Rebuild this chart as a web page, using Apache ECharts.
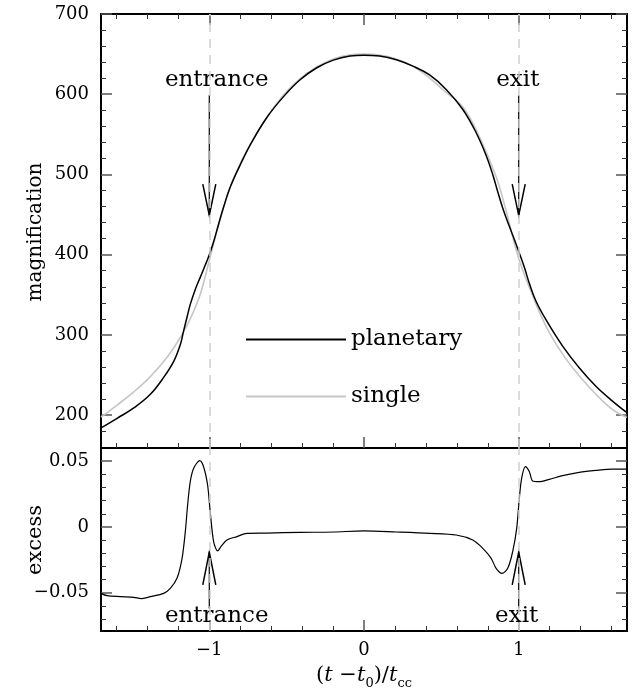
<!DOCTYPE html>
<html>
<head>
<meta charset="utf-8">
<script src="https://cdn.jsdelivr.net/npm/echarts@6/dist/echarts.min.js"></script>
<style>
html, body { margin: 0; padding: 0; background: #fff; }
#chart { width: 633px; height: 691px; }
</style>
</head>
<body>
<div id="chart"></div>
<script>
// planetary light curve (black)
const tPlanetary = [-1.70, -1.596, -1.488, -1.381, -1.295, -1.230, -1.187, -1.166, -1.144, -1.123, -1.090, -1.058, -1.026, -1.0,
	-0.972, -0.940, -0.908, -0.865, -0.800, -0.735, -0.628, -0.520, -0.413, -0.305, -0.198, -0.090, 0.0,
	0.101, 0.209, 0.316, 0.424, 0.531, 0.639, 0.725, 0.789, 0.832, 0.865, 0.897, 0.940, 0.972, 1.0,
	1.037, 1.069, 1.112, 1.176, 1.284, 1.391, 1.499, 1.606, 1.70];
const magPlanetary = [184, 196, 209, 226, 247, 267, 288, 305, 322, 338, 357, 372, 387, 400,
	416, 438, 459, 484, 512, 537, 571, 597, 618, 633, 642.5, 647.5, 648.5,
	647.5, 643, 635, 624, 606, 581, 552, 524, 500, 478, 458, 435, 419, 404,
	384, 364, 342, 319, 286, 259, 236, 217.5, 203];

// single lens light curve (gray)
const tSingle = [-1.70, -1.596, -1.488, -1.381, -1.273, -1.187, -1.123, -1.058, -1.0, -0.972, -0.918, -0.854, -0.746,
	-0.639, -0.520, -0.413, -0.305, -0.198, -0.090, 0.0, 0.090, 0.198, 0.305, 0.413, 0.520, 0.639,
	0.746, 0.854, 0.918, 0.972, 1.0, 1.069, 1.176, 1.284, 1.391, 1.499, 1.606, 1.70];
const magSingle = [197.5, 212.5, 229, 248, 272, 297, 320, 351, 393, 414, 452, 490, 534,
	568, 599, 619.5, 634, 644, 649, 650, 649, 644.5, 636, 622, 604, 584,
	547, 497, 455, 414, 395, 359, 311, 276, 249, 226, 207, 197];

// excess (bottom panel)
const tExcess = [-1.70, -1.66, -1.574, -1.488, -1.441, -1.381, -1.295, -1.252, -1.209, -1.176, -1.155, -1.140, -1.123,
	-1.101, -1.062, -1.037, -1.011, -0.994, -0.972, -0.946, -0.925, -0.886, -0.821, -0.757, -0.628, -0.413,
	-0.198, 0.0, 0.209, 0.424, 0.596, 0.703, 0.768, 0.822, 0.854, 0.892, 0.929, 0.961, 0.987, 1.004,
	1.019, 1.043, 1.069, 1.090, 1.133, 1.198, 1.284, 1.391, 1.499, 1.606, 1.70];
const excess = [-0.0504, -0.0522, -0.0529, -0.0534, -0.0544, -0.0529, -0.0504, -0.0466, -0.039, -0.0238, -0.0035, 0.0167, 0.0344,
	0.0446, 0.0504, 0.0458, 0.0319, 0.0116, -0.0111, -0.0182, -0.0149, -0.0099, -0.0073, -0.0048, -0.0046, -0.0041,
	-0.0038, -0.003, -0.0038, -0.0048, -0.0061, -0.0099, -0.0162, -0.0238, -0.0314, -0.0352, -0.0314, -0.0187, -0.001, 0.0218,
	0.037, 0.0458, 0.042, 0.0349, 0.0344, 0.0362, 0.039, 0.0415, 0.043, 0.044, 0.044];

// ticks
const xMajor = [-1, 0, 1];
const xMinor = [-1.6, -1.4, -1.2, -0.8, -0.6, -0.4, -0.2, 0.2, 0.4, 0.6, 0.8, 1.2, 1.4, 1.6];
const magMajor = [200, 300, 400, 500, 600, 700];
const magMinor = [180, 220, 240, 260, 280, 320, 340, 360, 380, 420, 440, 460, 480, 520, 540, 560, 580, 620, 640, 660, 680];
const excMajor = [-0.05, 0, 0.05];
const excMinor = [-0.07, -0.06, -0.04, -0.03, -0.02, -0.01, 0.01, 0.02, 0.03, 0.04];

// caustic entrance / exit marks
const causticT = [-1, 1];
const causticNames = ['entrance', 'exit'];
const labelTTop = [-0.952, 0.994];
const labelTBottom = [-0.952, 0.987];

const FONT = 'DejaVu Serif';

function fmt(v) {
	return v < 0 ? '\u2212' + Math.abs(v) : String(v);
}

function tickStyle(len) {
	return { color: len > 6 ? '#555' : '#333', width: len > 6 ? 1.5 : 1 };
}

// one axis per tick set; several stacked on the same edge
function xAx(grid, pos, ticks, len, opts) {
	return Object.assign({
		type: 'value', gridIndex: grid, position: pos, min: -1.7, max: 1.7,
		axisLine: { show: false, onZero: false },
		axisTick: { show: true, inside: true, length: len, customValues: ticks, lineStyle: tickStyle(len) },
		axisLabel: { show: false },
		splitLine: { show: false }
	}, opts || {});
}

function yAx(grid, pos, min, max, ticks, len, opts) {
	return Object.assign({
		type: 'value', gridIndex: grid, position: pos, min: min, max: max,
		axisLine: { show: false, onZero: false },
		axisTick: { show: true, inside: true, length: len, customValues: ticks, lineStyle: tickStyle(len) },
		axisLabel: { show: false },
		splitLine: { show: false }
	}, opts || {});
}

const frame = { show: true, onZero: false, lineStyle: { color: '#000', width: 2 } };
const tickLabel = { show: true, color: '#000', fontFamily: FONT, fontSize: 18 };

function arrowItem(tipV, tailV, armV, labelT, labelV) {
	return function (params, api) {
		const i = params.dataIndex;
		const t = causticT[i];
		const tail = api.coord([t, tailV]);
		const tip = api.coord([t, tipV]);
		const armL = api.coord([t - 0.042, armV]);
		const armR = api.coord([t + 0.042, armV]);
		const lab = api.coord([labelT[i], labelV]);
		return {
			type: 'group',
			children: [
				{ type: 'line', shape: { x1: tail[0], y1: tail[1], x2: tip[0], y2: tip[1] }, style: { stroke: '#000', lineWidth: 1.2 } },
				{ type: 'polyline', shape: { points: [armL, tip, armR] }, style: { stroke: '#000', fill: null, lineWidth: 1.5 } },
				{ type: 'text', x: lab[0], y: lab[1], style: { text: causticNames[i], fill: '#000', fontFamily: FONT, fontSize: 23, align: 'center', verticalAlign: 'middle' } }
			]
		};
	};
}

const dashed = {
	silent: true, symbol: 'none', label: { show: false },
	lineStyle: { color: '#cfcfcf', type: [9, 7], width: 1.5 },
	data: causticT.map(t => ({ xAxis: t }))
};

const chart = echarts.init(document.getElementById('chart'));
const option = {
	animation: false,
	backgroundColor: '#fff',
	grid: [
		{ left: 101, right: 6, top: 14, height: 434 },
		{ left: 101, right: 6, top: 448, height: 183 }
	],
	xAxis: [
		xAx(0, 'bottom', xMajor, 11, { axisLine: frame }),
		xAx(0, 'bottom', xMinor, 5),
		xAx(0, 'top', xMajor, 11, { axisLine: frame }),
		xAx(0, 'top', xMinor, 5),
		xAx(1, 'bottom', xMajor, 11, { axisLine: frame, axisLabel: Object.assign({ customValues: xMajor, margin: 10, formatter: fmt }, tickLabel) }),
		xAx(1, 'bottom', xMinor, 5),
		xAx(1, 'top', [], 0, { axisLine: frame, axisTick: { show: false } })
	],
	yAxis: [
		yAx(0, 'left', 159, 700, magMajor, 11, { axisLine: frame, axisLabel: Object.assign({ customValues: magMajor, margin: 12 }, tickLabel) }),
		yAx(0, 'left', 159, 700, magMinor, 5),
		yAx(0, 'right', 159, 700, magMajor, 11, { axisLine: frame }),
		yAx(0, 'right', 159, 700, magMinor, 5),
		yAx(1, 'left', -0.079, 0.06, excMajor, 11, { axisLine: frame, axisLabel: Object.assign({ customValues: excMajor, margin: 12, formatter: fmt }, tickLabel) }),
		yAx(1, 'left', -0.079, 0.06, excMinor, 5),
		yAx(1, 'right', -0.079, 0.06, excMajor, 11, { axisLine: frame }),
		yAx(1, 'right', -0.079, 0.06, excMinor, 5)
	],
	legend: {
		orient: 'vertical', left: 240, top: 323, itemWidth: 100, itemHeight: 14, itemGap: 34,
		selectedMode: false,
		itemStyle: { opacity: 0 },
		textStyle: { color: '#000', fontFamily: FONT, fontSize: 23 },
		data: ['planetary', 'single']
	},
	series: [
		{
			name: 'single', type: 'line', xAxisIndex: 0, yAxisIndex: 0, symbol: 'none', smooth: 0.4,
			itemStyle: { color: '#c6c6c6' },
			lineStyle: { color: '#c6c6c6', width: 1.6 }, z: 2,
			data: tSingle.map((t, i) => [t, magSingle[i]]),
			markLine: dashed
		},
		{
			name: 'planetary', type: 'line', xAxisIndex: 0, yAxisIndex: 0, symbol: 'none', smooth: 0.4,
			itemStyle: { color: '#000' },
			lineStyle: { color: '#000', width: 1.5 }, z: 3,
			data: tPlanetary.map((t, i) => [t, magPlanetary[i]])
		},
		{
			name: 'excess', type: 'line', xAxisIndex: 4, yAxisIndex: 4, symbol: 'none', smooth: 0.3,
			itemStyle: { color: '#000' },
			lineStyle: { color: '#000', width: 1.2 }, z: 3,
			data: tExcess.map((t, i) => [t, excess[i]]),
			markLine: dashed
		},
		{
			type: 'custom', xAxisIndex: 0, yAxisIndex: 0, z: 4, silent: true,
			renderItem: arrowItem(449, 599, 488, labelTTop, 617.5),
			data: causticT.map(t => [t, 449])
		},
		{
			type: 'custom', xAxisIndex: 4, yAxisIndex: 4, z: 4, silent: true,
			renderItem: arrowItem(-0.019, -0.062, -0.044, labelTBottom, -0.0676),
			data: causticT.map(t => [t, -0.019])
		}
	],
	graphic: [
		{ type: 'text', x: 36, y: 232, rotation: Math.PI / 2, style: { text: 'magnification', fill: '#000', fontFamily: FONT, fontSize: 20, align: 'center', verticalAlign: 'middle' } },
		{ type: 'text', x: 36, y: 540, rotation: Math.PI / 2, style: { text: 'excess', fill: '#000', fontFamily: FONT, fontSize: 21, align: 'center', verticalAlign: 'middle' } },
		{
			type: 'text', x: 364, y: 676,
			style: {
				text: '{n|(}{i|t}{n| \u2212}{i|t}{s|0}{n|)/}{i|t}{s|cc}',
				align: 'center', verticalAlign: 'middle', fill: '#000',
				rich: {
					n: { fontFamily: FONT, fontSize: 21, fill: '#000' },
					i: { fontFamily: FONT, fontSize: 21, fontStyle: 'italic', fill: '#000' },
					s: { fontFamily: FONT, fontSize: 13, fill: '#000', padding: [16, 0, 0, 0] }
				}
			}
		}
	]
};
chart.setOption(option);
</script>
</body>
</html>
